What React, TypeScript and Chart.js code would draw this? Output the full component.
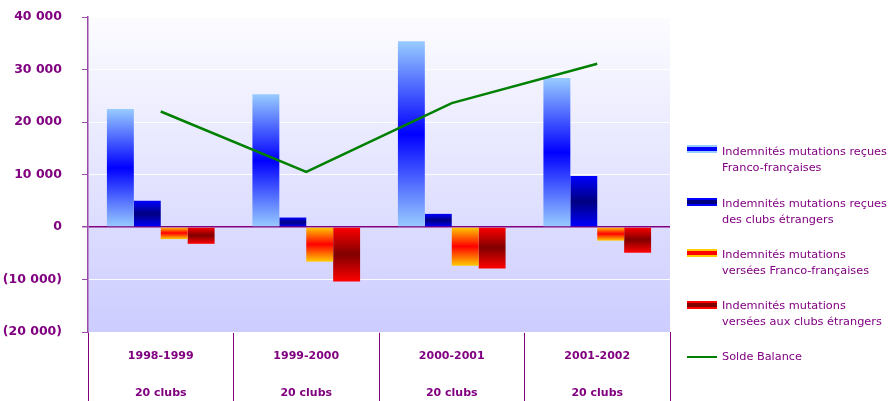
import React, { useEffect, useRef } from "react";
import { Chart, registerables } from "chart.js";

Chart.register(...registerables);

const categories = ["1998-1999", "1999-2000", "2000-2001", "2001-2002"];
const clubsLabel = ["20 clubs", "20 clubs", "20 clubs", "20 clubs"];
const recuesFranco = [22500, 25300, 35400, 28400];
const recuesEtrangers = [5000, 1800, 2500, 9700];
const verseesFranco = [-2300, -6600, -7400, -2600];
const verseesEtrangers = [-3200, -10400, -7900, -4900];
const soldeBalance = [22000, 10500, 23600, 31100];
const yTicks = [-20000, -10000, 0, 10000, 20000, 30000, 40000];

const PURPLE = "#800080";

const seriesNames = [
  ["Indemnités mutations reçues", "Franco-françaises"],
  ["Indemnités mutations reçues", "des clubs étrangers"],
  ["Indemnités mutations", "versées Franco-françaises"],
  ["Indemnités mutations", "versées aux clubs étrangers"],
  ["Solde Balance"],
];

const barColors: [string, string][] = [
  ["#99ccff", "#0000ff"],
  ["#0000ff", "#000080"],
  ["#ffcc00", "#ff0000"],
  ["#ff0000", "#800000"],
];

function fmt(v: number): string {
  const s = Math.abs(v).toString().replace(/\B(?=(\d{3})+(?!\d))/g, " ");
  if (v < 0) return "(" + s + ")";
  return s;
}

function gradientFill(edge: string, mid: string) {
  return (c: any) => {
    const chart = c.chart;
    const y = chart.scales && chart.scales.y;
    if (!y || c.raw == null) return mid;
    const p0 = y.getPixelForValue(0);
    const p1 = y.getPixelForValue(c.raw);
    if (!isFinite(p0) || !isFinite(p1) || p0 === p1) return mid;
    const g = chart.ctx.createLinearGradient(0, Math.min(p0, p1), 0, Math.max(p0, p1));
    g.addColorStop(0, edge);
    g.addColorStop(0.5, mid);
    g.addColorStop(1, edge);
    return g;
  };
}

const bgPlugin = {
  id: "plotBg",
  beforeDraw(chart: any) {
    const { ctx, chartArea } = chart;
    if (!chartArea) return;
    const g = ctx.createLinearGradient(0, chartArea.top, 0, chartArea.bottom);
    g.addColorStop(0, "#fcfcff");
    g.addColorStop(1, "#ccccff");
    ctx.save();
    ctx.fillStyle = g;
    ctx.fillRect(chartArea.left, chartArea.top, chartArea.right - chartArea.left, chartArea.bottom - chartArea.top);
    ctx.restore();
  },
};

export default function App() {
  const ref = useRef<HTMLCanvasElement | null>(null);

  useEffect(() => {
    if (!ref.current) return;
    const barData = [recuesFranco, recuesEtrangers, verseesFranco, verseesEtrangers];
    const datasets: any[] = [
      {
        type: "line",
        label: seriesNames[4].join(" "),
        data: soldeBalance,
        borderColor: "#008000",
        borderWidth: 2.5,
        pointRadius: 0,
        fill: false,
        order: 0,
      },
    ];
    barData.forEach((d, i) => {
      datasets.push({
        type: "bar",
        label: seriesNames[i].join(" "),
        data: d,
        backgroundColor: gradientFill(barColors[i][0], barColors[i][1]),
        borderWidth: 0,
        categoryPercentage: 0.74,
        barPercentage: 1.0,
        order: 1,
      });
    });

    const chart = new Chart(ref.current, {
      type: "bar",
      data: {
        labels: categories.map((c, i) => [c, clubsLabel[i]]),
        datasets,
      },
      plugins: [bgPlugin],
      options: {
        animation: false,
        responsive: true,
        maintainAspectRatio: false,
        layout: { padding: { left: 0, top: 17, right: 219, bottom: 0 } },
        plugins: {
          legend: { display: false },
          tooltip: { enabled: false },
        },
        scales: {
          x: {
            offset: true,
            border: { display: false },
            grid: {
              offset: true,
              drawOnChartArea: false,
              drawTicks: true,
              tickLength: 69,
              tickColor: PURPLE,
              lineWidth: 1,
            },
            ticks: {
              color: PURPLE,
              maxRotation: 0,
              autoSkip: false,
              padding: -63.5,
              font: { family: "DejaVu Sans", size: 11, weight: "bold", lineHeight: "37px" },
            },
            afterFit(scale: any) {
              scale.height = 69;
            },
          },
          y: {
            min: -20000,
            max: 40000,
            afterBuildTicks(scale: any) {
              scale.ticks = yTicks.map((v) => ({ value: v }));
            },
            border: { display: true, color: "#9a4aa8", width: 1.5 },
            grid: {
              color: (c: any) => (c.tick && c.tick.value === 0 ? PURPLE : "rgba(255,255,255,0.9)"),
              lineWidth: (c: any) => (c.tick && c.tick.value === 0 ? 1.5 : 1),
              tickColor: "#9a4aa8",
              tickLength: 6,
            },
            ticks: {
              color: PURPLE,
              padding: 20,
              font: { family: "DejaVu Sans", size: 12.5, weight: "bold" },
              callback: (v: any) => fmt(Number(v)),
            },
            afterFit(scale: any) {
              scale.width = 88;
              scale.paddingTop = 0;
              scale.paddingBottom = 0;
            },
          },
        },
      } as any,
    });
    return () => chart.destroy();
  }, []);

  const iconBg = [
    `linear-gradient(to bottom, #99ccff 0 30%, #0000ff 30% 70%, #99ccff 70%)`,
    `linear-gradient(to bottom, #0000ff 0 30%, #000080 30% 70%, #0000ff 70%)`,
    `linear-gradient(to bottom, #ffcc00 0 30%, #ff0000 30% 70%, #ffcc00 70%)`,
    `linear-gradient(to bottom, #ff0000 0 30%, #800000 30% 70%, #ff0000 70%)`,
  ];
  const iconCenters = [149, 202, 253, 305, 357];
  const textCenters = [152, 204, 255, 306, 357];

  return (
    <div style={{ position: "fixed", left: 0, top: 0, width: 889, height: 401, background: "#ffffff" }}>
      <canvas ref={ref} />
      {seriesNames.map((lines, i) => (
        <React.Fragment key={i}>
          <div
            style={{
              position: "absolute",
              left: 687,
              width: 30,
              top: i < 4 ? iconCenters[i] - 4 : iconCenters[i] - 1,
              height: i < 4 ? 8 : 2,
              background: i < 4 ? iconBg[i] : "#008000",
            }}
          />
          <div
            style={{
              position: "absolute",
              left: 722,
              top: textCenters[i] - 8,
              fontFamily: "DejaVu Sans",
              fontSize: 11.3,
              lineHeight: "16px",
              color: PURPLE,
              whiteSpace: "nowrap",
            }}
          >
            {lines.map((l, j) => (
              <div key={j}>{l}</div>
            ))}
          </div>
        </React.Fragment>
      ))}
    </div>
  );
}
